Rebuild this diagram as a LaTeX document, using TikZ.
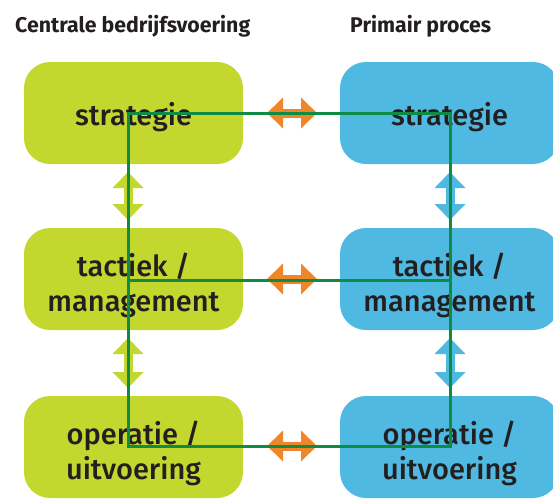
\documentclass[tikz,border=0pt]{standalone}
\usepackage{fontspec}
\setmainfont{Fira Sans}
\newfontfamily\captionfont{Fira Sans Medium}
\usetikzlibrary{arrows.meta}
\definecolor{lime}{HTML}{C3D72F}
\definecolor{sky}{HTML}{4FB9E1}
\definecolor{tangerine}{HTML}{F0862A}
\definecolor{route}{HTML}{0E8C44}
\definecolor{ink}{HTML}{231F20}
\tikzset{
  level/.style={rounded corners=26pt, minimum width=219pt, minimum height=102pt,
    inner sep=0pt},
  central/.style={level, fill=lime},
  primary/.style={level, fill=sky},
  caption/.style={text=ink, inner sep=0pt, align=center,
    font=\captionfont\fontsize{29}{35}\selectfont},
  heading/.style={font=\bfseries\fontsize{21.3}{24}\selectfont, text=ink, inner sep=0pt},
  harrow/.style={draw=tangerine, line width=9pt,
    {Triangle[length=16pt,width=30pt]}-{Triangle[length=16pt,width=30pt]}},
  varrow/.style={line width=9pt,
    {Triangle[length=16pt,width=30pt]}-{Triangle[length=16pt,width=30pt]}},
  routeline/.style={draw=route, line width=3pt}
}
\begin{document}
\begin{tikzpicture}[x=1pt,y=-1pt]
\useasboundingbox (0,0) rectangle (553,498);
\clip (0,0) rectangle (553,498);

% column headings
\node[heading, anchor=base west] (hcentral) at (15,32) {Centrale bedrijfsvoering};
\node[heading, anchor=base west] (hprimary) at (350,32) {Primair proces};

% left column: central operations
\node[central] (cs) at (133.5,113) {};
\node[central] (ct) at (133.5,279) {};
\node[central] (co) at (133.5,447) {};

% right column: primary process
\node[primary] (ps) at (449.5,113) {};
\node[primary] (pt) at (449.5,279) {};
\node[primary] (po) at (449.5,447) {};

% box captions
\node[caption] (csl) at ([yshift=-4pt]cs.center) {strategie};
\node[caption] (ctl) at ([yshift=-6pt]ct.center) {tactiek /\\management};
\node[caption] (col) at ([yshift=-6pt]co.center) {operatie /\\uitvoering};
\node[caption] (psl) at ([yshift=-4pt]ps.center) {strategie};
\node[caption] (ptl) at ([yshift=-6pt]pt.center) {tactiek /\\management};
\node[caption] (pol) at ([yshift=-6pt]po.center) {operatie /\\uitvoering};

% horizontal links between columns
\coordinate (ha1) at (267,113); \coordinate (hb1) at (317,113);
\coordinate (ha2) at (267,279); \coordinate (hb2) at (317,279);
\coordinate (ha3) at (267,446); \coordinate (hb3) at (317,446);
\draw[harrow] (ha1) -- (hb1);
\draw[harrow] (ha2) -- (hb2);
\draw[harrow] (ha3) -- (hb3);

% vertical links within each column
\coordinate (la1) at (128,172); \coordinate (lb1) at (128,220);
\coordinate (la2) at (128,338); \coordinate (lb2) at (128,388);
\coordinate (ra1) at (450,172); \coordinate (rb1) at (450,220);
\coordinate (ra2) at (450,338); \coordinate (rb2) at (450,388);
\draw[varrow, draw=lime] (la1) -- (lb1);
\draw[varrow, draw=lime] (la2) -- (lb2);
\draw[varrow, draw=sky] (ra1) -- (rb1);
\draw[varrow, draw=sky] (ra2) -- (rb2);

% green route grid
\coordinate (g11) at (128,113); \coordinate (g12) at (450,113);
\coordinate (g21) at (128,280); \coordinate (g22) at (450,280);
\coordinate (g31) at (128,446); \coordinate (g32) at (450,446);
\draw[routeline] (g11) -- (g12) -- (g32) -- (g31) -- cycle;
\draw[routeline] (g21) -- (g22);
\end{tikzpicture}
\end{document}
